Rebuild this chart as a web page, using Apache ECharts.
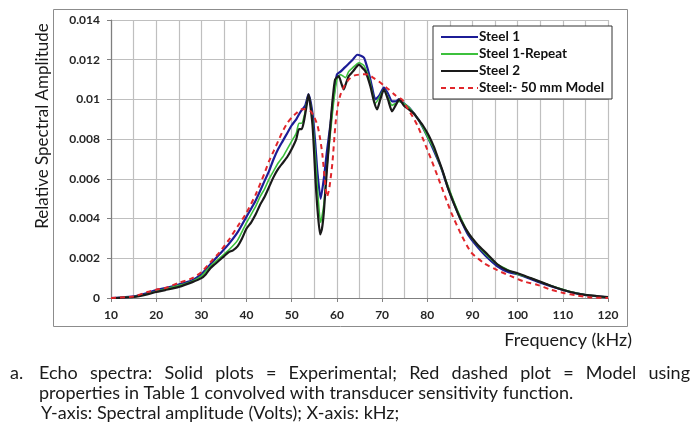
<!DOCTYPE html>
<html>
<head>
<meta charset="utf-8">
<script src="https://cdn.jsdelivr.net/npm/echarts@6/dist/echarts.min.js"></script>
<style>
html,body{margin:0;padding:0;background:#fff;}
#chart{width:693px;height:433px;}
</style>
</head>
<body>
<div id="chart"></div>
<script>
// ---- Data ----
const xTicks = [10, 20, 30, 40, 50, 60, 70, 80, 90, 100, 110, 120];
const yTicks = [0, 0.002, 0.004, 0.006, 0.008, 0.01, 0.012, 0.014];

const steel1Freq = [10,12,15,18,20,22,25,28,30,32,34,36,38,40,42,44,45,46,47,48,49,50,51,52,53,53.7,54.6,55.2,55.7,56.4,57.1,57.8,58.6,59.3,60,60.8,61.7,62.6,63.5,64.5,65.3,66,66.6,67.2,67.8,68.5,69.4,70.4,71.3,72.2,73,73.7,74.8,75.9,77,78,79,80.3,81.5,83,84.5,86,87.5,89,91,93,95.5,98,100,103,106,109,112,115,118,120];
const steel1Amp = [0,0.00002,0.00008,0.00025,0.0004,0.0005,0.00068,0.0009,0.0012,0.0017,0.0022,0.0027,0.0033,0.0041,0.0049,0.0059,0.0064,0.007,0.0075,0.0079,0.0083,0.0087,0.009,0.0094,0.0097,0.01025,0.0093,0.0078,0.0063,0.005,0.006,0.0074,0.0088,0.0102,0.01125,0.0114,0.0116,0.0118,0.012,0.01225,0.0122,0.0121,0.0117,0.0112,0.0106,0.01,0.0102,0.0106,0.0103,0.0099,0.0099,0.01,0.0098,0.0096,0.0093,0.009,0.0086,0.008,0.0074,0.0066,0.0056,0.0047,0.0039,0.0032,0.0026,0.0021,0.0016,0.0013,0.0012,0.00095,0.0007,0.00048,0.00028,0.00015,0.00007,0.00003];

const repeatFreq = [10,12,15,18,20,22,25,28,30,32,34,36,38,40,41,42,43,44,45,46,47,48,49,50,51,51.6,52.2,52.8,53.7,54.6,55.2,55.7,56.4,57.1,57.8,58.6,59.3,60,60.8,61.9,62.6,63.4,64.9,66,66.6,67.2,67.8,68.5,69.4,70.4,71.3,72.2,73,73.7,74.8,75.9,77,78,79,80.3,81.5,83,84.5,86,87.5,89,91,93,95.5,98,100,103,106,109,112,115,118,120];
const repeatAmp = [0,0.00002,0.00006,0.0002,0.00034,0.00045,0.00063,0.00085,0.0011,0.0016,0.002,0.0024,0.0029,0.0038,0.0042,0.0046,0.0051,0.0055,0.006,0.0064,0.0068,0.0071,0.0075,0.0079,0.0083,0.0088,0.0088,0.0092,0.0102,0.009,0.0072,0.0055,0.0038,0.0047,0.0066,0.0084,0.0099,0.011,0.01125,0.0111,0.0114,0.01158,0.01185,0.0117,0.0114,0.011,0.0104,0.0098,0.0101,0.0105,0.0101,0.0097,0.0098,0.0099,0.0098,0.0096,0.0093,0.009,0.0086,0.008,0.0075,0.0066,0.0057,0.0048,0.004,0.0033,0.0027,0.0022,0.0017,0.0014,0.0012,0.001,0.00073,0.0005,0.0003,0.00016,0.00007,0.00003];

const steel2Freq = [10,12,15,18,20,22,25,28,30,31,32,33,34,35,36,37,38,39,40,41,42,43,44,45,46,47,48,49,50,51,51.6,52.2,52.7,53.3,53.7,54.6,55.3,55.8,56.3,56.7,57.1,57.8,58.6,59.1,59.6,60.4,61,61.5,62,62.6,63.5,64.9,65.6,66.3,67.4,68.2,68.9,69.6,70.4,71.3,72.2,73,73.8,74.8,75.9,77,78,79,80.3,81.5,82.3,83.4,84.5,86,87.5,89.3,91.1,93.3,95.5,97.7,100,102.9,105.8,108.7,111.7,114.6,117.5,120];
const steel2Amp = [0,0.00001,0.00005,0.00018,0.0003,0.0004,0.00056,0.0008,0.001,0.0012,0.0015,0.0017,0.0019,0.0021,0.0023,0.0024,0.0026,0.003,0.0035,0.0038,0.0042,0.0047,0.0051,0.0056,0.0061,0.0065,0.0068,0.0071,0.0075,0.008,0.0085,0.0085,0.0089,0.0097,0.01025,0.0087,0.0058,0.0042,0.0032,0.0035,0.0043,0.0065,0.0088,0.0101,0.011,0.01117,0.0108,0.0105,0.0108,0.01117,0.0114,0.01175,0.0116,0.01142,0.01067,0.0099,0.0095,0.01,0.0105,0.01,0.0094,0.0097,0.01,0.0097,0.0095,0.0093,0.009,0.0087,0.0082,0.0076,0.0071,0.0064,0.0056,0.0047,0.0039,0.0032,0.0027,0.0022,0.0017,0.0014,0.00125,0.001,0.00075,0.0005,0.0003,0.00017,0.0001,0.00004];

const modelFreq = [10,12,15,18,20,22,25,28,30,32,34,36,38,40,42,44,45,46,47,48,49,50,51,52,53,54.2,55,55.7,56.3,56.8,57.3,57.8,58.3,59,59.7,60.3,60.8,61.7,62.6,63.8,64.9,66,67,68,69.3,70.4,71.5,73,74.4,75.5,76.6,78,79.6,81,82.5,84.3,85.3,87.5,89.7,92.6,95.5,98.5,101.4,104.3,107.3,110.2,113.1,116,120];
const modelAmp = [0,0.00002,0.00008,0.0003,0.00042,0.0005,0.00076,0.001,0.0013,0.0018,0.0023,0.0029,0.0036,0.0043,0.0052,0.0063,0.0069,0.0074,0.0079,0.0084,0.0088,0.0091,0.0093,0.0095,0.0095,0.0094,0.0091,0.0087,0.008,0.0072,0.006,0.0051,0.0055,0.0068,0.0088,0.0098,0.01025,0.0107,0.011,0.0112,0.01125,0.01127,0.01125,0.0111,0.0109,0.0107,0.0105,0.0102,0.01,0.0096,0.0092,0.0086,0.0077,0.0069,0.006,0.0049,0.0043,0.0032,0.0023,0.00175,0.0014,0.0011,0.00083,0.00067,0.00042,0.00025,0.00013,0.00003,0];

const seriesNames = ['Steel 1', 'Steel 1-Repeat', 'Steel 2', 'Steel:- 50 mm Model'];
const xTitle = 'Frequency (kHz)';
const yTitle = 'Relative Spectral Amplitude';
const captionLine1 = ['a.', 'Echo', 'spectra:', 'Solid', 'plots', '=', 'Experimental;', 'Red', 'dashed', 'plot', '=', 'Model', 'using'];
const captionLine2 = 'properties in Table 1 convolved with transducer sensitivity function.';
const captionLine3 = 'Y-axis: Spectral amplitude (Volts); X-axis: kHz;';

// ---- Build ----
const pair = (fs, as) => fs.map((f, i) => [f, as[i]]);
const FONT = 'Lato, "Open Sans", sans-serif';
const CAP_FONT_SIZE = 18;

// Justify caption line 1 using text measurements
const mctx = document.createElement('canvas').getContext('2d');
mctx.font = CAP_FONT_SIZE + 'px ' + FONT;
const capLeftA = 10, capLeftWords = 39, capRight = 690;
const words = captionLine1.slice(1);
const widths = words.map(w => mctx.measureText(w).width);
const totalW = widths.reduce((a, b) => a + b, 0);
const gap = (capRight - capLeftWords - totalW) / (words.length - 1);
const capY1 = 373, capY2 = 393, capY3 = 413;
const graphics = [];
graphics.push({ type: 'rect', shape: { x: 53.5, y: 9.5, width: 574, height: 317 }, style: { fill: 'none', stroke: '#8c8c8c', lineWidth: 1 }, silent: true, z: -1 });
graphics.push({ type: 'text', x: 43, y: 126, rotation: Math.PI / 2, style: { text: yTitle, font: '17px ' + FONT, fill: '#1a1a1a', textAlign: 'center', textVerticalAlign: 'middle' } });
graphics.push({ type: 'text', x: 632, y: 340, style: { text: xTitle, font: '18px ' + FONT, fill: '#1a1a1a', textAlign: 'right', textVerticalAlign: 'middle' } });
graphics.push({ type: 'text', x: capLeftA, y: capY1, style: { text: captionLine1[0], font: CAP_FONT_SIZE + 'px ' + FONT, fill: '#1a1a1a', textVerticalAlign: 'middle' } });
let cx = capLeftWords;
words.forEach((w, i) => {
  graphics.push({ type: 'text', x: cx, y: capY1, style: { text: w, font: CAP_FONT_SIZE + 'px ' + FONT, fill: '#1a1a1a', textVerticalAlign: 'middle' } });
  cx += widths[i] + gap;
});
graphics.push({ type: 'text', x: capLeftWords, y: capY2, style: { text: captionLine2, font: CAP_FONT_SIZE + 'px ' + FONT, fill: '#1a1a1a', textVerticalAlign: 'middle' } });
graphics.push({ type: 'text', x: capLeftWords + 2, y: capY3, style: { text: captionLine3, font: CAP_FONT_SIZE + 'px ' + FONT, fill: '#1a1a1a', textVerticalAlign: 'middle' } });

const chart = echarts.init(document.getElementById('chart'), null, { renderer: 'canvas' });
const mkLine = (name, data, color, width, type) => ({
  name, type: 'line', data, symbol: 'none', smooth: 0.2,
  lineStyle: { color, width, type: type || 'solid' }, itemStyle: { color },
  animation: false
});
chart.setOption({
  backgroundColor: '#fff',
  animation: false,
  textStyle: { fontFamily: FONT },
  grid: { left: 111, right: 85, top: 20, bottom: 135, containLabel: false },
  xAxis: {
    type: 'value', min: xTicks[0], max: xTicks[xTicks.length - 1], interval: 10,
    axisLine: { show: true, onZero: false, lineStyle: { color: '#7f7f7f', width: 1.2 } },
    axisTick: { show: true, length: 4, lineStyle: { color: '#7f7f7f' } },
    axisLabel: { color: '#262626', fontWeight: 'bold', fontSize: 12, margin: 11, fontFamily: FONT },
    splitLine: { show: true, lineStyle: { color: '#bfbfbf', width: 1.2 } },
    minorTick: { show: false, splitNumber: 2 },
    minorSplitLine: { show: true, lineStyle: { color: '#bfbfbf', width: 1.2 } }
  },
  yAxis: {
    type: 'value', min: yTicks[0], max: yTicks[yTicks.length - 1], interval: 0.002,
    axisLine: { show: true, lineStyle: { color: '#7f7f7f', width: 1.2 } },
    axisTick: { show: true, length: 4, lineStyle: { color: '#7f7f7f' } },
    axisLabel: { color: '#262626', fontWeight: 'bold', fontSize: 12, margin: 11, fontFamily: FONT,
      formatter: v => v === 0 ? '0' : String(+v.toFixed(3)) },
    splitLine: { show: true, lineStyle: { color: '#bfbfbf', width: 1.2 } }
  },
  legend: {
    orient: 'vertical', left: 433, top: 26,
    backgroundColor: '#fff', borderColor: '#333', borderWidth: 1,
    padding: [4, 8, 4, 7], itemGap: 3, itemWidth: 37, itemHeight: 14,
    itemStyle: { opacity: 0 },
    textStyle: { fontWeight: 'bold', fontSize: 13.5, color: '#111', fontFamily: FONT, padding: [0, 0, 0, -4] },
    data: seriesNames
  },
  series: [
    mkLine(seriesNames[0], pair(steel1Freq, steel1Amp), '#1c1c96', 2.2),
    mkLine(seriesNames[1], pair(repeatFreq, repeatAmp), '#3cc03c', 1.6),
    mkLine(seriesNames[2], pair(steel2Freq, steel2Amp), '#1a1a1a', 2.2),
    mkLine(seriesNames[3], pair(modelFreq, modelAmp), '#e0262b', 2, [5, 4])
  ],
  graphic: graphics
});
</script>
</body>
</html>
